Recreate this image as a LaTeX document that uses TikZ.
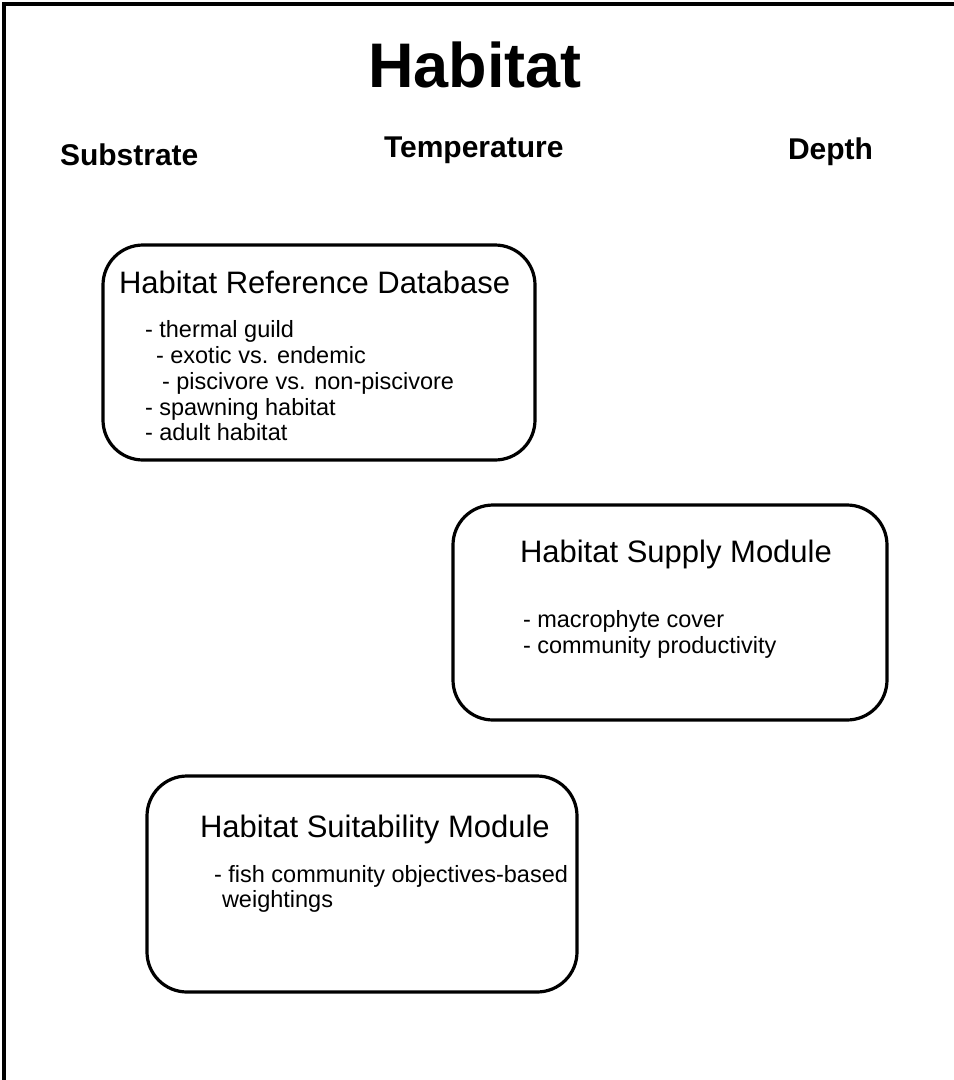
\documentclass[tikz,border=0pt]{standalone}
\usepackage{fontspec}
\setmainfont{Liberation Sans}
\begin{document}
\begin{tikzpicture}[x=1pt,y=-1pt,
  frame/.style={line width=3.2pt},
  modbox/.style={draw, line width=3.2pt, rounded corners=40pt, inner sep=0pt},
  txt/.style={anchor=base west, inner sep=0pt, outer sep=0pt},
  big/.style={txt, font=\fontsize{63}{70}\selectfont\bfseries},
  head/.style={txt, font=\fontsize{30}{36}\selectfont\bfseries},
  mtitle/.style={txt, font=\fontsize{31}{36}\selectfont},
  item/.style={txt, font=\fontsize{23.5}{26}\selectfont}]
\useasboundingbox (0,0) rectangle (954,1080);
% frame (top and left edges only)
\coordinate (fa) at (954,4);
\coordinate (fb) at (4,4);
\coordinate (fc) at (4,1080);
\draw[frame] (fa) -- (fb) -- (fc);
% title and headings
\node[big] (title) at (368,87) {Habitat};
\node[head] (sub) at (60,165) {Substrate};
\node[head] (temp) at (384,157) {Temperature};
\node[head] (dep) at (788,159) {Depth};
% boxes
\node[modbox, minimum width=432pt, minimum height=215pt] (hrd) at (319,352.5) {};
\node[modbox, minimum width=434pt, minimum height=215pt] (hsm) at (670,612.5) {};
\node[modbox, minimum width=430pt, minimum height=216pt] (hsu) at (362,884) {};
% box 1 text
\node[mtitle] (hrdt) at (119,293) {Habitat Reference Database};
\node[item] (i1) at (145,337) {- thermal guild};
\node[item] (i2) at (156,363) {- exotic vs. endemic};
\node[item] (i3) at (162,389) {- piscivore vs. non-piscivore};
\node[item] (i4) at (145,415) {- spawning habitat};
\node[item] (i5) at (145,440) {- adult habitat};
% box 2 text
\node[mtitle] (hsmt) at (520,562) {Habitat Supply Module};
\node[item] (j1) at (523,627) {- macrophyte cover};
\node[item] (j2) at (523,653) {- community productivity};
% box 3 text
\node[mtitle] (hsut) at (200,837) {Habitat Suitability Module};
\node[item] (k1) at (214,882) {- fish community objectives-based};
\node[item] (k2) at (222,907) {weightings};
\end{tikzpicture}
\end{document}
